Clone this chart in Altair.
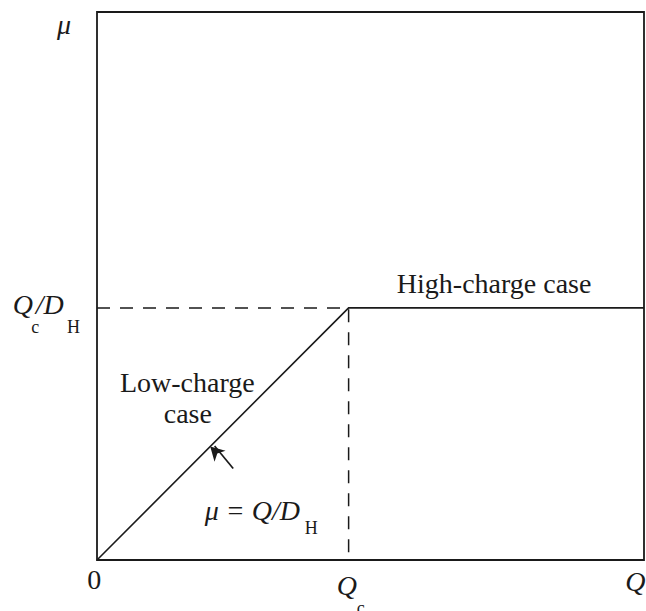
import altair as alt
import pandas as pd

# Normalised units: charge Q on x, chemical potential mu on y
Q_MAX = 1.0
MU_MAX = 1.0
Q_C = 0.46          # critical charge
D_H = 1.0
MU_C = Q_C / D_H    # plateau level Q_c / D_H

# mu(Q): linear rise up to Q_c, flat beyond it
curve_q = [0.0, Q_C, Q_MAX]
curve_mu = [0.0, MU_C, MU_C]

# dashed guides to the axes from the corner point
guide_q = [0.0, Q_C, Q_C]
guide_mu = [MU_C, MU_C, 0.0]

# arrow pointing at the low-charge branch
arrow_tip_q = 0.207
arrow_tail_q = arrow_tip_q + 0.042
arrow_tail_mu = arrow_tip_q - 0.040

FONT = "Liberation Serif"
INK = "#1a1a1a"

xs = alt.Scale(domain=[0, Q_MAX], nice=False, zero=False)
ys = alt.Scale(domain=[0, MU_MAX], nice=False, zero=False)

curve = pd.DataFrame({"q": curve_q, "mu": curve_mu, "i": range(3)})
guide = pd.DataFrame({"q": guide_q, "mu": guide_mu, "i": range(3)})

solid = alt.Chart(curve).mark_line(color=INK, strokeWidth=1.6).encode(
    x=alt.X("q:Q", scale=xs, axis=None),
    y=alt.Y("mu:Q", scale=ys, axis=None),
    order="i:O",
)

dashed = alt.Chart(guide).mark_line(
    color=INK, strokeWidth=1.5, strokeDash=[13, 10]
).encode(
    x=alt.X("q:Q", scale=xs, axis=None),
    y=alt.Y("mu:Q", scale=ys, axis=None),
    order="i:O",
)

arrow_df = pd.DataFrame({
    "q": [arrow_tail_q], "mu": [arrow_tail_mu],
    "q2": [arrow_tip_q + 0.008], "mu2": [arrow_tip_q + 0.001],
})
arrow_shaft = alt.Chart(arrow_df).mark_rule(color=INK, strokeWidth=1.7).encode(
    x=alt.X("q:Q", scale=xs, axis=None),
    y=alt.Y("mu:Q", scale=ys, axis=None),
    x2="q2", y2="mu2",
)
head_df = pd.DataFrame({"q": [arrow_tip_q], "mu": [arrow_tip_q]})
arrow_head = alt.Chart(head_df).mark_point(
    shape="M0,0 L-0.9,1.6 L0,1.15 L0.9,1.6 Z",
    filled=True, color=INK, opacity=1, size=300, angle=315, strokeWidth=0,
).encode(
    x=alt.X("q:Q", scale=xs, axis=None),
    y=alt.Y("mu:Q", scale=ys, axis=None),
)


def text_layer(rows, size, style, align):
    df = pd.DataFrame(rows, columns=["text", "q", "mu"])
    return alt.Chart(df).mark_text(
        font=FONT, fontSize=size, fontStyle=style, align=align,
        baseline="alphabetic", color=INK,
    ).encode(
        x=alt.X("q:Q", scale=xs, axis=None),
        y=alt.Y("mu:Q", scale=ys, axis=None),
        text="text:N",
    )


italic_left = text_layer([
    ("μ", -0.073, 0.960),
    ("Q", -0.154, 0.449),
    ("/D", -0.112, 0.449),
    ("μ = Q/D", 0.197, 0.073),
], 28, "italic", "left")

italic_center = text_layer([
    ("Q", 0.457, -0.064),
    ("Q", 0.984, -0.057),
], 28, "italic", "center")

upright_center = text_layer([
    ("0", -0.005, -0.053),
    ("Low-charge", 0.165, 0.307),
    ("case", 0.166, 0.250),
    ("High-charge case", 0.726, 0.487),
], 28, "normal", "center")

subscripts = text_layer([
    ("c", -0.120, 0.414),
    ("H", -0.055, 0.414),
    ("c", 0.475, -0.099),
    ("H", 0.380, 0.047),
], 18, "normal", "left")

chart = alt.layer(
    dashed, solid, arrow_shaft, arrow_head,
    italic_left, italic_center, upright_center, subscripts,
).properties(
    width=547,
    height=548,
    autosize=alt.AutoSizeParams(type="none"),
    padding={"left": 97, "top": 12, "right": 2, "bottom": 51},
    background="white",
).configure_view(
    stroke=INK, strokeWidth=1.8,
)

chart.save("out.html", embed_options={"renderer": "svg", "actions": False})
